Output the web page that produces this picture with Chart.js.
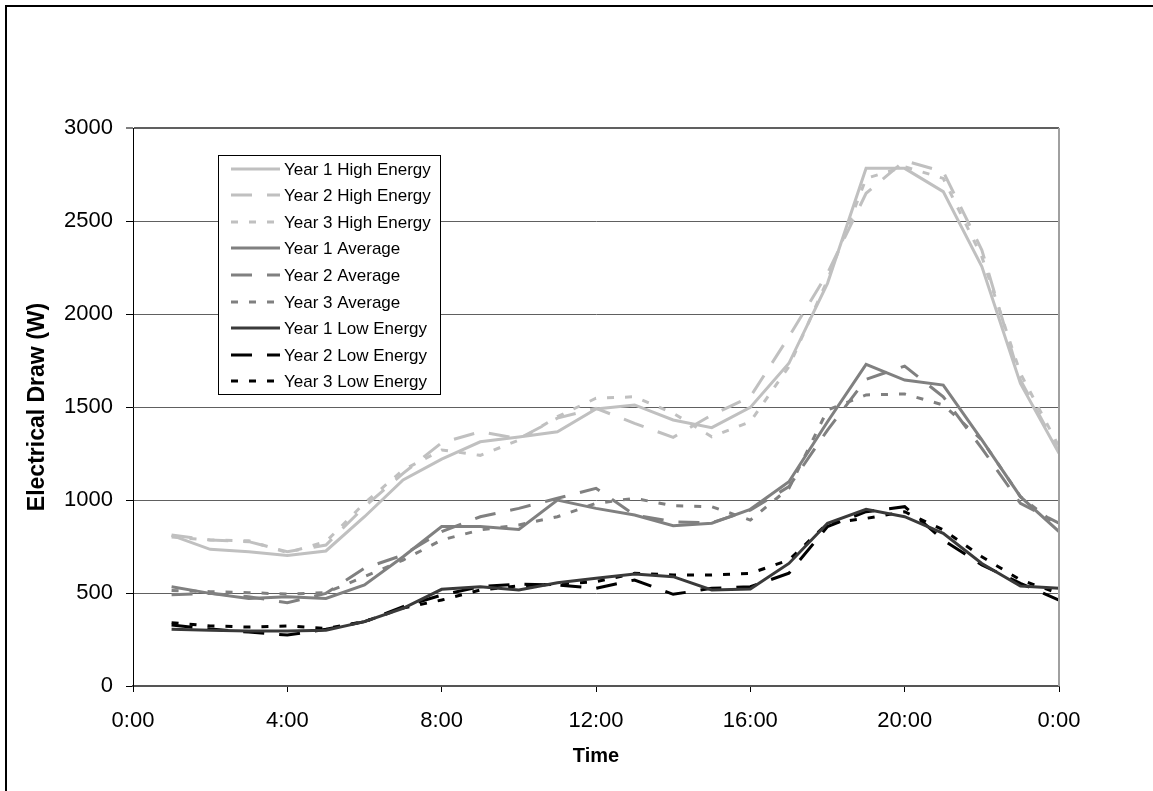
<!DOCTYPE html>
<html>
<head>
<meta charset="utf-8">
<script src="https://cdn.jsdelivr.net/npm/chart.js@4"></script>
<style>
  html, body { margin: 0; padding: 0; background: #fff; }
  canvas { display: block; }
</style>
</head>
<body>
<canvas id="myChart" width="1153" height="791"></canvas>
<script>
// Horas del dia (1:00 ... 24:00)
const horas = [1, 2, 3, 4, 5, 6, 7, 8, 9, 10, 11, 12, 13, 14, 15, 16, 17, 18, 19, 20, 21, 22, 23, 24];

const year1High = [810, 735, 722, 701, 726, 910, 1108, 1220, 1313, 1339, 1367, 1489, 1511, 1430, 1389, 1498, 1735, 2165, 2783, 2783, 2658, 2255, 1627, 1251];
const year2High = [812, 785, 776, 722, 758, 964, 1143, 1308, 1367, 1330, 1440, 1493, 1412, 1337, 1457, 1555, 1878, 2219, 2649, 2824, 2765, 2344, 1645, 1260];
const year3High = [801, 785, 781, 717, 776, 983, 1161, 1269, 1240, 1322, 1448, 1547, 1555, 1467, 1340, 1421, 1717, 2183, 2729, 2792, 2729, 2308, 1681, 1287];

const year1Avg = [534, 498, 471, 480, 471, 543, 695, 857, 857, 842, 1000, 955, 919, 862, 875, 950, 1098, 1421, 1729, 1645, 1618, 1323, 1018, 830];
const year2Avg = [490, 498, 480, 448, 498, 633, 704, 830, 910, 955, 1009, 1063, 919, 883, 878, 946, 1072, 1376, 1649, 1720, 1555, 1278, 982, 875];
const year3Avg = [513, 507, 502, 494, 502, 588, 677, 785, 839, 866, 910, 982, 1009, 969, 964, 892, 1063, 1484, 1565, 1570, 1511, 1323, 1018, 857];

const year1Low = [305, 300, 296, 296, 300, 346, 418, 520, 534, 516, 555, 579, 602, 588, 516, 522, 659, 875, 950, 910, 821, 659, 538, 525];
const year2Low = [328, 306, 290, 274, 305, 346, 427, 489, 534, 548, 543, 525, 570, 493, 525, 534, 606, 857, 937, 964, 785, 651, 552, 462];
const year3Low = [340, 323, 317, 323, 309, 346, 419, 462, 516, 538, 548, 561, 606, 597, 597, 606, 677, 875, 901, 937, 839, 695, 570, 498];

const xTicks = [0, 4, 8, 12, 16, 20, 24];
const yTicks = [0, 500, 1000, 1500, 2000, 2500, 3000];

(function () {

	const ctx = document.getElementById('myChart');

	const LIGHT = '#c0c0c0';
	const MID = '#808080';
	const DARK = '#3a3a3a';
	const BLACK = '#000000';
	const DASH = [21, 15];
	const DOT = [7, 11];
	const FAMILIA = '"Liberation Sans", Arial, sans-serif';

	function serie(label, valores, color, dash) {
		return {
			label: label,
			data: valores.map((v, i) => ({ x: horas[i], y: v })),
			borderColor: color,
			backgroundColor: color,
			borderWidth: 3,
			borderDash: dash,
			borderCapStyle: 'butt',
			pointRadius: 0,
			tension: 0,
			fill: false
		};
	}

	// Leyenda dibujada dentro del area del grafico
	const leyenda = {
		id: 'leyenda',
		afterDatasetsDraw(chart) {
			const c = chart.ctx;
			const area = chart.chartArea;
			const left = area.left + 85;
			const top = area.top + 27;
			const w = 222;
			const h = 239;
			c.save();
			c.fillStyle = '#fff';
			c.fillRect(left, top, w, h);
			c.strokeStyle = '#000';
			c.lineWidth = 1;
			c.strokeRect(left + 0.5, top + 0.5, w, h);
			c.font = '17px ' + FAMILIA;
			c.textBaseline = 'middle';
			chart.data.datasets.forEach((ds, i) => {
				const y = Math.round(top + 13.5 + i * 26.6);
				c.strokeStyle = ds.borderColor;
				c.lineWidth = 3;
				c.setLineDash(ds.borderDash || []);
				c.beginPath();
				c.moveTo(left + 13, y);
				c.lineTo(left + 62, y);
				c.stroke();
				c.setLineDash([]);
				c.fillStyle = '#000';
				c.fillText(ds.label, left + 66, y + 1);
			});
			c.restore();
		},
		afterDraw(chart) {
			const c = chart.ctx;
			const area = chart.chartArea;
			c.save();
			// borde derecho del area de trazado
			c.strokeStyle = '#a0a0a0';
			c.lineWidth = 2;
			c.beginPath();
			c.moveTo(area.right, area.top);
			c.lineTo(area.right, area.bottom);
			c.stroke();
			// marco exterior
			c.strokeStyle = '#000';
			c.lineWidth = 2;
			c.beginPath();
			c.moveTo(6, chart.height + 5);
			c.lineTo(6, 6);
			c.lineTo(chart.width + 5, 6);
			c.stroke();
			c.restore();
		}
	};

	const fondo = {
		id: 'fondo',
		beforeDraw(chart) {
			const c = chart.ctx;
			c.save();
			c.fillStyle = '#fff';
			c.fillRect(0, 0, chart.width, chart.height);
			c.restore();
		}
	};

	new Chart(ctx, {
		type: 'line',
		data: {
			datasets: [
				serie('Year 1 High Energy', year1High, LIGHT, []),
				serie('Year 2 High Energy', year2High, LIGHT, DASH),
				serie('Year 3 High Energy', year3High, LIGHT, DOT),
				serie('Year 1 Average', year1Avg, MID, []),
				serie('Year 2 Average', year2Avg, MID, DASH),
				serie('Year 3 Average', year3Avg, MID, DOT),
				serie('Year 1 Low Energy', year1Low, DARK, []),
				serie('Year 2 Low Energy', year2Low, BLACK, DASH),
				serie('Year 3 Low Energy', year3Low, BLACK, DOT)
			]
		},
		plugins: [fondo, leyenda],
		options: {
			responsive: false,
			animation: false,
			devicePixelRatio: 1,
			layout: { padding: { top: 128, right: 94, left: 0, bottom: 0 } },
			plugins: {
				legend: { display: false },
				tooltip: { enabled: false }
			},
			scales: {
				x: {
					type: 'linear',
					min: 0,
					max: 24,
					afterBuildTicks: function (scale) {
						scale.ticks = xTicks.map(v => ({ value: v }));
					},
					afterFit: function (scale) { scale.height = 105; },
					ticks: {
						color: '#000',
						font: { size: 22, family: FAMILIA },
						padding: 16,
						maxRotation: 0,
						autoSkip: false,
						callback: function (value) {
							return (value % 24) + ':00';
						}
					},
					grid: {
						drawOnChartArea: false,
						tickLength: 6,
						tickColor: '#000',
						tickWidth: 1
					},
					border: { color: '#555', width: 2 },
					title: {
						display: true,
						text: 'Time',
						color: '#000',
						font: { size: 20, weight: 'bold', family: FAMILIA },
						padding: { top: 0, bottom: 23 }
					}
				},
				y: {
					min: 0,
					max: 3000,
					afterBuildTicks: function (scale) {
						scale.ticks = yTicks.map(v => ({ value: v }));
					},
					afterFit: function (scale) { scale.width = 133; },
					ticks: {
						color: '#000',
						font: { size: 22, family: FAMILIA },
						padding: 13,
						callback: function (value) {
							return String(value);
						}
					},
					grid: {
						color: '#606060',
						lineWidth: function (c) { return c.tick && c.tick.value === 3000 ? 2 : 1; },
						tickLength: 7,
						tickColor: '#000',
						tickWidth: 1
					},
					border: { color: '#000', width: 1 },
					title: {
						display: true,
						text: 'Electrical Draw (W)',
						color: '#000',
						font: { size: 23, weight: 'bold', family: FAMILIA },
						padding: { top: 24, bottom: 0 }
					}
				}
			}
		}
	});

})();
</script>
</body>
</html>
